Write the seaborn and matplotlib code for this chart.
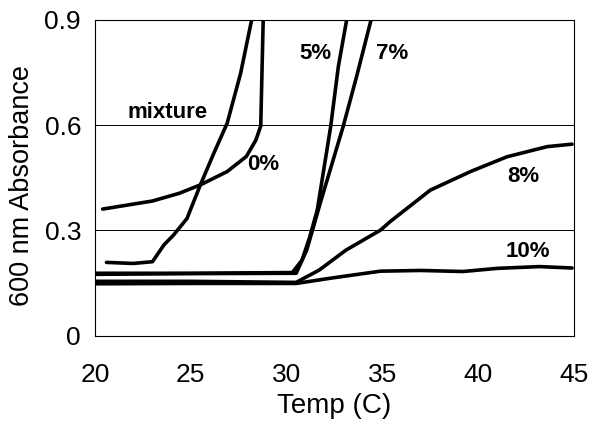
import numpy as np
import pandas as pd
import seaborn as sns
import matplotlib.pyplot as plt

# ── Data ────────────────────────────────────────────────────────────────────
mix_x = [20.4, 23.0, 24.4, 25.5, 26.9, 27.9, 28.4, 28.65, 28.8]
mix_y = [0.361, 0.384, 0.406, 0.430, 0.468, 0.511, 0.558, 0.598, 0.95]

p0_x = [20.6, 22.0, 23.0, 23.6, 24.1, 24.8, 25.5, 26.2, 26.9, 27.6, 28.25]
p0_y = [0.209, 0.206, 0.211, 0.259, 0.287, 0.334, 0.430, 0.520, 0.606, 0.748, 0.92]

p5_x = [20.0, 25.0, 30.3, 30.8, 31.2, 31.6, 32.3, 32.7, 33.2]
p5_y = [0.178, 0.178, 0.180, 0.215, 0.280, 0.358, 0.596, 0.767, 0.92]

p7_x = [20.0, 25.0, 30.5, 31.05, 31.4, 31.75, 32.95, 33.65, 34.5]
p7_y = [0.175, 0.177, 0.178, 0.244, 0.310, 0.377, 0.596, 0.738, 0.92]

p8_x = [20.0, 25.0, 30.5, 31.7, 33.1, 34.9, 35.4, 37.5, 39.6, 41.5, 43.6, 44.9]
p8_y = [0.155, 0.155, 0.152, 0.187, 0.244, 0.301, 0.325, 0.415, 0.468, 0.510, 0.539, 0.546]

p10_x = [20.0, 25.0, 30.5, 32.3, 34.9, 37.0, 39.2, 41.0, 43.2, 44.9]
p10_y = [0.148, 0.149, 0.149, 0.164, 0.184, 0.186, 0.183, 0.192, 0.197, 0.193]

labels = ['mixture', '0%', '5%', '7%', '8%', '10%']
label_x = [23.8, 28.8, 31.5, 35.5, 42.35, 42.6]
label_y = [0.636, 0.487, 0.805, 0.805, 0.453, 0.239]

x_ticks = [20, 25, 30, 35, 40, 45]
y_ticks = [0, 0.3, 0.6, 0.9]
y_ticklabels = ['0', '0.3', '0.6', '0.9']

series = [('mixture', mix_x, mix_y), ('0%', p0_x, p0_y), ('5%', p5_x, p5_y),
          ('7%', p7_x, p7_y), ('8%', p8_x, p8_y), ('10%', p10_x, p10_y)]
df = pd.concat([pd.DataFrame({'temp': xs, 'abs': ys, 'series': name})
                for name, xs, ys in series], ignore_index=True)

# ── Style ───────────────────────────────────────────────────────────────────
sns.set_style('white')
plt.rcParams['font.family'] = ['Liberation Sans', 'DejaVu Sans']
plt.rcParams['text.color'] = 'black'
plt.rcParams['axes.labelcolor'] = 'black'

fig = plt.figure(figsize=(5.89, 4.21), dpi=100)
ax = fig.add_axes([0.1613, 0.2026, 0.8132, 0.7499])

sns.lineplot(data=df, x='temp', y='abs', hue='series', units='series',
             palette=['black'] * len(series), estimator=None, sort=False,
             legend=False, linewidth=2.6, ax=ax)

for y in [0.3, 0.6]:
    ax.axhline(y, color='black', linewidth=0.7, zorder=0)

for txt, lx, ly in zip(labels, label_x, label_y):
    ax.text(lx, ly, txt, ha='center', va='center', fontsize=16,
            fontweight='bold', color='black')

ax.set_xlim(20, 45)
ax.set_ylim(0, 0.9)
ax.set_xticks(x_ticks)
ax.set_yticks(y_ticks)
ax.set_yticklabels(y_ticklabels)
ax.tick_params(axis='both', direction='out', length=6, width=0.8,
               labelsize=19, color='black', labelcolor='black')
ax.tick_params(axis='x', pad=14)
ax.tick_params(axis='y', pad=4)
ax.set_xlabel('Temp (C)', fontsize=20, labelpad=4)
ax.set_ylabel('600 nm Absorbance', fontsize=19.5, va='center')
ax.yaxis.set_label_coords(-0.152, 0.477)

for sp in ax.spines.values():
    sp.set_color('black')
    sp.set_linewidth(0.8)

plt.savefig('out.png', dpi=100)
